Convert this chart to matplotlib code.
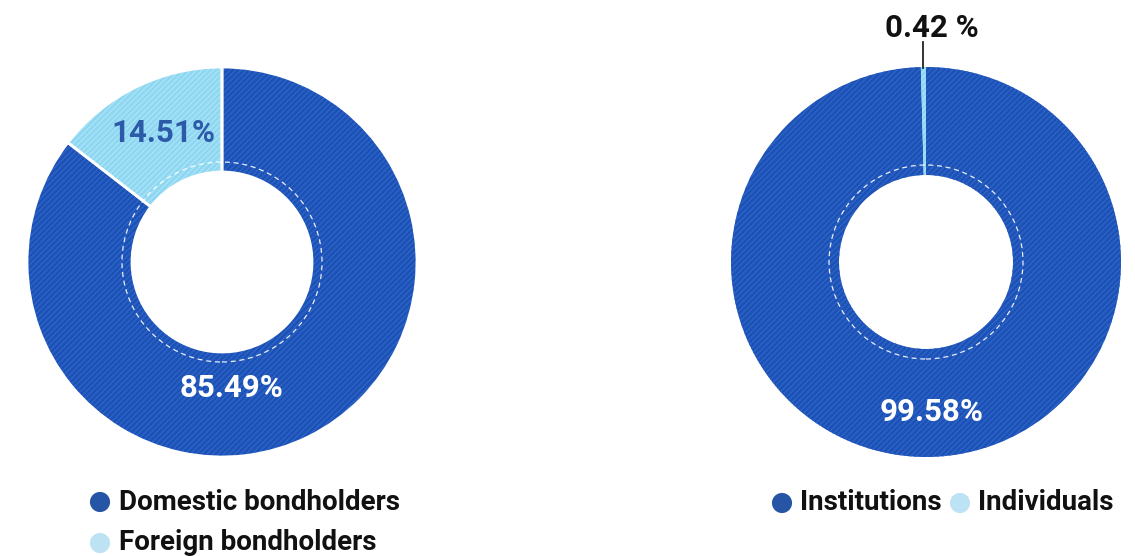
import matplotlib.pyplot as plt
from matplotlib.patches import Circle

plt.rcParams['font.family'] = ['Roboto', 'DejaVu Sans']
plt.rcParams['hatch.linewidth'] = 1.2

# data
holder_labels = ['Domestic bondholders', 'Foreign bondholders']
holder_shares = [85.49, 14.51]
investor_labels = ['Institutions', 'Individuals']
investor_shares = [99.58, 0.42]

dark = '#1c50b4'
dark_tex = '#2a62c6'
light = '#8dd6f1'
light_tex = '#a6e2f6'
leg_dark = '#2755a6'
leg_light = '#bde2f4'

W, H = 1135, 556
fig = plt.figure(figsize=(W / 100, H / 100), dpi=100)
ax = fig.add_axes([0, 0, 1, 1])
ax.set_xlim(0, W)
ax.set_ylim(0, H)
ax.set_aspect('equal')
ax.axis('off')

R_OUT = 195


def donut(center, shares, r_in, r_dash, sep_lw):
    ring = R_OUT - r_in
    wedges, _ = ax.pie(shares, colors=[dark, light], startangle=90, counterclock=False,
                       center=center, radius=R_OUT, frame=True,
                       wedgeprops=dict(width=ring, linewidth=0))
    for w, tc in zip(wedges, [dark_tex, light_tex]):
        w.set_hatch('//////')
        w.set_edgecolor(tc)
    if sep_lw > 0:
        ax.pie(shares, colors=['none', 'none'], startangle=90, counterclock=False,
               center=center, radius=R_OUT, frame=True,
               wedgeprops=dict(width=ring, linewidth=sep_lw, edgecolor='white'))
    ax.add_patch(Circle(center, r_dash, fill=False, edgecolor='white', lw=0.9,
                        linestyle=(0, (4, 3)), alpha=0.9))


left_c = (222, H - 262)
right_c = (926, H - 262)

donut(left_c, holder_shares, 90, 100, 2)
donut(right_c, investor_shares, 87, 97, 0)
ax.set_xlim(0, W)
ax.set_ylim(0, H)
ax.axis('off')

lab = dict(fontsize=22.5, fontweight='bold', ha='center', va='center')
ax.text(left_c[0] + 10, left_c[1] - 126, f'{holder_shares[0]:.2f}%', color='white', **lab)
ax.text(left_c[0] - 59, left_c[1] + 129, f'{holder_shares[1]:.2f}%', color='#2c5aa8', **lab)
ax.text(right_c[0] + 6, right_c[1] - 150, f'{investor_shares[0]:.2f}%', color='white', **lab)
ax.text(right_c[0] + 6, H - 28, f'{investor_shares[1]:.2f} %', color='#111111', **lab)
ax.plot([right_c[0] - 3, right_c[0] - 3], [H - 42, H - 68], color='#222222', lw=1.3)

# legends
leg = dict(fontsize=20, fontweight='bold', ha='left', va='center', color='#111111')
for i, (name, col) in enumerate(zip(holder_labels, [leg_dark, leg_light])):
    y = H - 502 - i * 41
    ax.scatter([100], [y], s=210, color=col, edgecolor='none')
    ax.text(119, y, name, **leg)

xs = [782, 960]
for x, name, col in zip(xs, investor_labels, [leg_dark, leg_light]):
    y = H - 503
    ax.scatter([x], [y], s=210, color=col, edgecolor='none')
    ax.text(x + 18, y, name, **leg)

fig.savefig('out.png', dpi=100)
